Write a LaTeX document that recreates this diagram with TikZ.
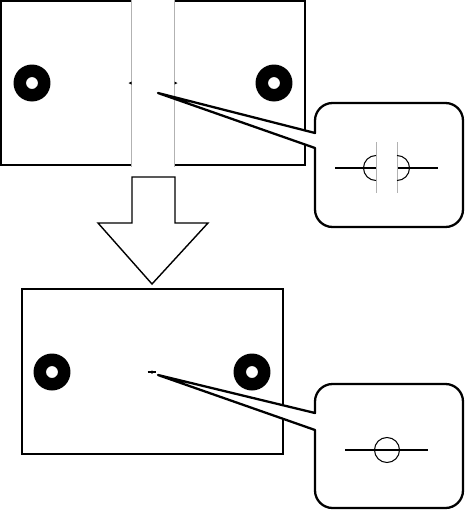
\documentclass[tikz,border=0pt]{standalone}
\usepackage{tikz}

\begin{document}
\begin{tikzpicture}[x=0.02cm,y=-0.02cm,
  panel/.style={line width=1.3pt},
  seam/.style={line width=0.5pt,gray!60},
  callout/.style={line width=1.3pt,fill=white,line join=round},
  bigarrow/.style={line width=0.8pt,fill=white},
  detail/.style={line width=0.6pt},
  ring/.style={even odd rule,fill=black}]
\useasboundingbox (0,0) rectangle (464,511);
% before
\draw[panel] (131.5,1) -- (1,1) -- (1,165) -- (131.5,165);
\draw[panel] (174.5,1) -- (305,1) -- (305,165) -- (174.5,165);
\draw[seam] (131.5,0) -- (131.5,167);
\draw[seam] (174.5,0) -- (174.5,167);
\fill[ring] (32,83) circle (0.37cm) circle (0.12cm);
\fill[ring] (274,83) circle (0.37cm) circle (0.12cm);
\fill (128.5,83) -- (131.5,81.5) -- (131.5,84.5) -- cycle;
\fill (177.5,83) -- (174.5,81.5) -- (174.5,84.5) -- cycle;
\coordinate (tipA) at (158,93);
\filldraw[callout] (315,133) -- (tipA) -- (315,148) [rounded corners=10]
  -- (315,227) -- (463,227) -- (463,103) -- (315,103) [sharp corners] -- cycle;
\draw[detail] (335,168) -- (376,168);
\draw[detail] (397,168) -- (438,168);
\draw[seam] (376,142) -- (376,193);
\draw[seam] (397,142) -- (397,193);
\draw[detail] (376,155.5) arc[start angle=270,end angle=90,radius=12.5];
\draw[detail] (397,155.5) arc[start angle=-90,end angle=90,radius=12.5];
% arrow
\draw[bigarrow] (132,177) -- (175,177) -- (175,223) -- (208,223) -- (152,284)
  -- (98,223) -- (132,223) -- cycle;
% after
\draw[panel] (22,289) rectangle (283,454);
\fill[ring] (52,372) circle (0.37cm) circle (0.12cm);
\fill[ring] (252,372) circle (0.37cm) circle (0.12cm);
\draw[line width=0.6pt] (147.5,372) -- (156,372);
\fill (152,372) circle (0.035cm);
\coordinate (tipB) at (158,375);
\filldraw[callout] (315,413) -- (tipB) -- (315,430) [rounded corners=10]
  -- (315,508) -- (463,508) -- (463,384) -- (315,384) [sharp corners] -- cycle;
\draw[detail] (345,450) -- (428,450);
\draw[detail] (387,450) circle (12.5);
\end{tikzpicture}
\end{document}
